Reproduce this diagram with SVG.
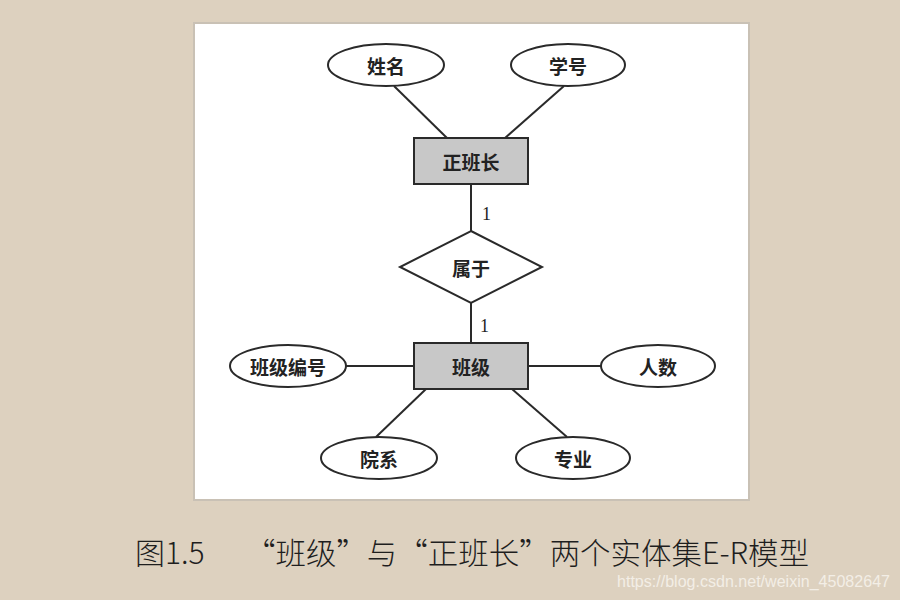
<svg xmlns="http://www.w3.org/2000/svg" width="900" height="600" viewBox="0 0 900 600">
<style>
.bg{fill:#ddd1bf}
.panel{fill:#ffffff;stroke:#c9c1b5;stroke-width:2}
.attr{fill:#ffffff;stroke:#2a2a2a;stroke-width:2}
.ent{fill:#c8c8c8;stroke:#2a2a2a;stroke-width:2}
.rel{fill:#ffffff;stroke:#2a2a2a;stroke-width:2}
.edge{stroke:#2a2a2a;stroke-width:2;fill:none}
.lbl{font-family:"Noto Sans CJK SC","Liberation Serif",sans-serif;font-size:19px;font-weight:700;fill:#222;text-anchor:middle;dominant-baseline:central}
.card{font-family:"Liberation Serif",serif;font-size:18px;fill:#222}
.cap{font-family:"Noto Sans CJK SC","Noto Sans",sans-serif;font-size:30px;font-weight:300;fill:#1e1e1e}
.wm{font-family:"Liberation Sans",sans-serif;font-size:16px;fill:#f3eee6}
</style>
<rect class="bg" x="0" y="0" width="900" height="600"/>
<rect class="panel" x="194" y="23" width="555" height="477"/>
<g id="connectors">
<line class="edge" x1="394" y1="86" x2="447" y2="138"/>
<line class="edge" x1="564" y1="86" x2="505" y2="138"/>
<line class="edge" x1="471" y1="184" x2="471" y2="231"/>
<line class="edge" x1="471" y1="303" x2="471" y2="343"/>
<line class="edge" x1="346" y1="366" x2="414" y2="366"/>
<line class="edge" x1="528" y1="366" x2="601" y2="366"/>
<line class="edge" x1="426" y1="389" x2="376" y2="437"/>
<line class="edge" x1="512" y1="389" x2="567" y2="437"/>
<text class="card" x="482" y="220">1</text>
<text class="card" x="480" y="332">1</text>
</g>
<g id="attr-name"><ellipse class="attr" cx="386" cy="65" rx="58" ry="21"/><text class="lbl" x="386" y="65">姓名</text></g>
<g id="attr-sno"><ellipse class="attr" cx="568" cy="65" rx="57" ry="21"/><text class="lbl" x="568" y="65">学号</text></g>
<g id="ent-monitor"><rect class="ent" x="414" y="138" width="114" height="46"/><text class="lbl" x="471" y="161">正班长</text></g>
<g id="rel-belong"><polygon class="rel" points="471,231 542,267 471,303 400,267"/><text class="lbl" x="471" y="267">属于</text></g>
<g id="ent-class"><rect class="ent" x="414" y="343" width="114" height="46"/><text class="lbl" x="471" y="366">班级</text></g>
<g id="attr-classno"><ellipse class="attr" cx="288" cy="366" rx="58" ry="21"/><text class="lbl" x="288" y="366">班级编号</text></g>
<g id="attr-count"><ellipse class="attr" cx="658" cy="366" rx="57" ry="21"/><text class="lbl" x="658" y="366">人数</text></g>
<g id="attr-dept"><ellipse class="attr" cx="379" cy="458" rx="58" ry="21"/><text class="lbl" x="379" y="458">院系</text></g>
<g id="attr-major"><ellipse class="attr" cx="573" cy="458" rx="57" ry="21"/><text class="lbl" x="573" y="458">专业</text></g>
<text class="cap" x="135" y="564">图1.5</text>
<text class="cap" x="245" y="564" textLength="564" lengthAdjust="spacingAndGlyphs">“班级”与“正班长”两个实体集E-R模型</text>
<text class="wm" x="617" y="587" textLength="273" lengthAdjust="spacingAndGlyphs">https://blog.csdn.net/weixin_45082647</text>
</svg>
